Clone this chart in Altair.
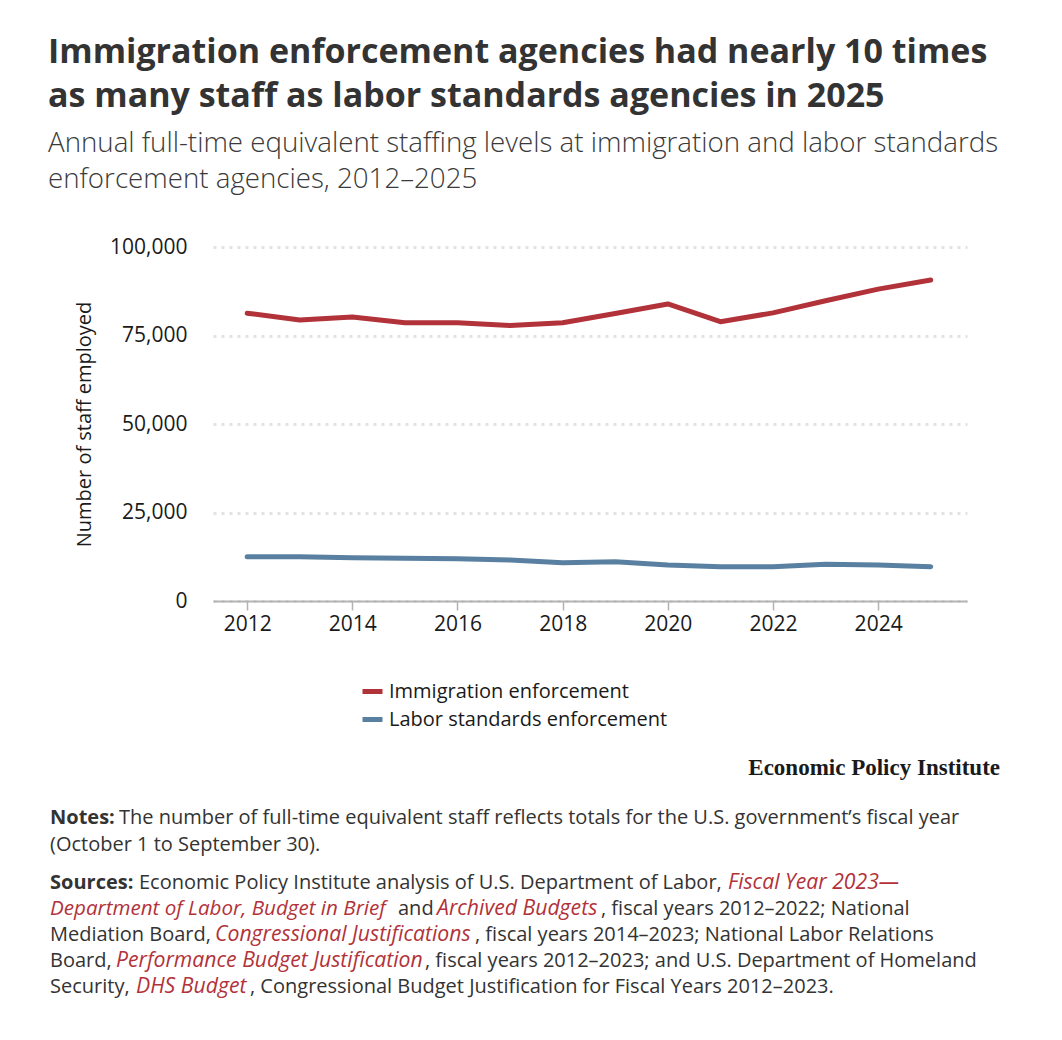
import altair as alt
import pandas as pd

# Annual full-time equivalent staff, fiscal years 2012-2025
years = list(range(2012, 2026))
immigration = [81300, 79400, 80200, 78600, 78600, 77800, 78600,
               81200, 83900, 78900, 81400, 84800, 88100, 90700]
labor = [12500, 12500, 12200, 12100, 11900, 11600, 10800,
         11100, 10200, 9700, 9700, 10400, 10200, 9700]

series_names = ["Immigration enforcement", "Labor standards enforcement"]
series_colors = ["#b2323a", "#5a80a1"]
y_ticks = [0, 25000, 50000, 75000, 100000]
x_ticks = [2012, 2014, 2016, 2018, 2020, 2022, 2024]

df = pd.concat([
    pd.DataFrame({"year": years, "staff": immigration, "series": series_names[0]}),
    pd.DataFrame({"year": years, "staff": labor, "series": series_names[1]}),
])

SANS = "Open Sans"
SERIF = "Liberation Serif"
INK = "#333333"
RED = "#b2323a"
BODY = 20
ITALIC = 21.2

lines = alt.Chart(df).mark_line(strokeWidth=5, strokeCap="round", strokeJoin="round").encode(
    x=alt.X("year:Q",
            scale=alt.Scale(domain=[2011.35, 2025.69], nice=False, zero=False),
            axis=alt.Axis(values=x_ticks, format="d", title=None, grid=False,
                          domainColor="#b3b3b3", domainWidth=2,
                          tickColor="#b3b3b3", tickWidth=1.5, tickSize=9,
                          labelPadding=3, labelFontSize=21, labelColor="#1a1a1a",
                          labelFont=SANS)),
    y=alt.Y("staff:Q",
            scale=alt.Scale(domain=[0, 100000], nice=False),
            axis=alt.Axis(values=y_ticks, format=",d", title="Number of staff employed",
                          domain=False, ticks=False, labelPadding=26,
                          labelFontSize=21, labelColor="#1a1a1a", labelFont=SANS,
                          gridColor="#e3e3e3", gridDash=[3, 5], gridWidth=3,
                          titleFont=SANS, titleFontSize=20, titleFontWeight="normal",
                          titleColor="#1a1a1a", titleX=-119, titleY=177,
                          titleAngle=-90, titleAlign="center", titleBaseline="bottom")),
    color=alt.Color("series:N",
                    scale=alt.Scale(domain=series_names, range=series_colors),
                    legend=alt.Legend(title=None, orient="none", legendX=147, legendY=432,
                                      symbolType="stroke", symbolStrokeWidth=5,
                                      symbolSize=400, labelFontSize=20, labelFont=SANS,
                                      labelColor="#1a1a1a", labelOffset=4, labelLimit=0,
                                      rowPadding=5, padding=0)),
    order=alt.Order("year:Q"),
)


def txt(s, x, y, size=BODY, weight="normal", style="normal", color=INK,
        font=SANS, align="left"):
    return alt.Chart(alt.Data(values=[{}])).mark_text(
        text=s, align=align, baseline="alphabetic", font=font, fontSize=size,
        fontWeight=weight, fontStyle=style, color=color,
    ).encode(x=alt.value(x), y=alt.value(y))


def link(s, x, y, size=ITALIC):
    return txt(s, x, y, size=size, style="italic", color=RED)


texts = [
    txt("Immigration enforcement agencies had nearly 10 times", -165, -184, 34, "bold"),
    txt("as many staff as labor standards agencies in 2025", -165, -140, 34, "bold"),
    txt("Annual full-time equivalent staffing levels at immigration and labor standards",
        -165, -95, 27.7, 300, color="#3a3a3a"),
    txt("enforcement agencies, 2012\u20132025", -165, -59, 27.7, 300, color="#3a3a3a"),
    txt("Economic Policy Institute", 787, 528, 23, "bold", font=SERIF,
        color="#1a1a1a", align="right"),
    # notes
    txt("Notes:", -163, 577, weight="bold"),
    txt("The number of full-time equivalent staff reflects totals for the U.S. government\u2019s fiscal year",
        -94, 577),
    txt("(October 1 to September 30).", -163, 604),
    # sources
    txt("Sources:", -163, 642, weight="bold"),
    txt("Economic Policy Institute analysis of U.S. Department of Labor,", -74, 642),
    link("Fiscal Year 2023\u2014", 515, 642),
    link("Department of Labor, Budget in Brief", -163, 668, size=20.6),
    txt("and", 185, 668),
    link("Archived Budgets", 224, 668),
    txt(", fiscal years 2012\u20132022; National", 388, 668),
    txt("Mediation Board,", -163, 694),
    link("Congressional Justifications", 2, 694),
    txt(", fiscal years 2014\u20132023; National Labor Relations", 262, 694),
    txt("Board,", -163, 720),
    link("Performance Budget Justification", -97, 720),
    txt(", fiscal years 2012\u20132023; and U.S. Department of Homeland", 212, 720),
    txt("Security,", -163, 746),
    link("DHS Budget", -77, 746),
    txt(", Congressional Budget Justification for Fiscal Years 2012\u20132023.", 37, 746),
]

chart = alt.layer(lines, *texts).properties(
    width=754, height=354,
    padding={"left": 213, "top": 247, "right": 95, "bottom": 439},
    autosize=alt.AutoSizeParams(type="none"),
    background="white",
).configure_view(stroke=None)

chart.save("out.html", embed_options={"renderer": "svg", "actions": False})
